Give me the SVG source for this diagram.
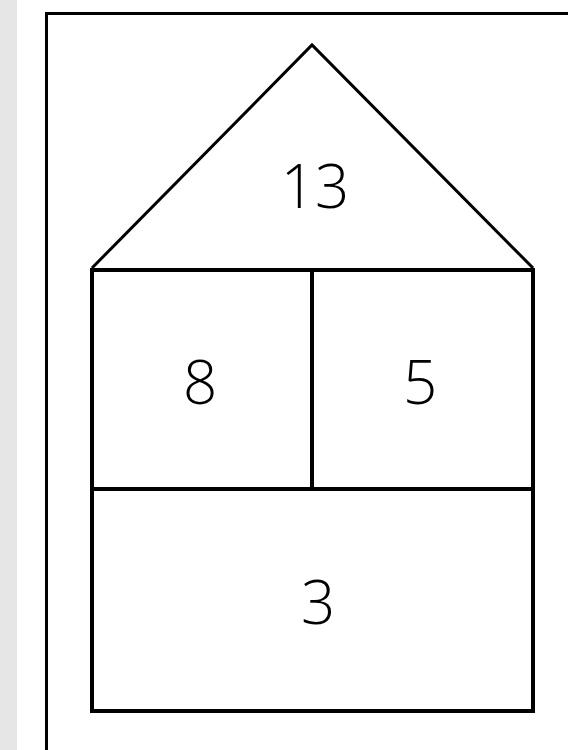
<svg xmlns="http://www.w3.org/2000/svg" width="568" height="750" viewBox="0 0 568 750">
<style>
.ln{stroke:#000;stroke-width:4;fill:none;stroke-linecap:square}
.rf{stroke:#000;stroke-width:3;fill:none}
.t{font-family:"Open Sans","Liberation Sans",sans-serif;font-weight:300;font-size:60px;fill:#000;text-anchor:middle}
</style>
<rect x="0" y="0" width="568" height="750" fill="#fff"/>
<rect x="0" y="0" width="17" height="750" fill="#e6e6e6"/>
<rect x="46.5" y="13.5" width="540" height="760" fill="#fff" stroke="#000" stroke-width="3"/>
<g id="connectors">
<polyline class="rf" points="92,268 312,45 533,268"/>
<rect class="ln" x="92" y="270" width="441" height="441"/>
<line class="ln" x1="92" y1="489" x2="533" y2="489"/>
<line class="ln" x1="312" y1="270" x2="312" y2="489"/>
</g>
<g id="roof"><text class="t" x="315" y="208">13</text></g>
<g id="left"><text class="t" x="200" y="404">8</text></g>
<g id="right"><text class="t" x="420" y="404">5</text></g>
<g id="bottom"><text class="t" x="318" y="624">3</text></g>
</svg>
